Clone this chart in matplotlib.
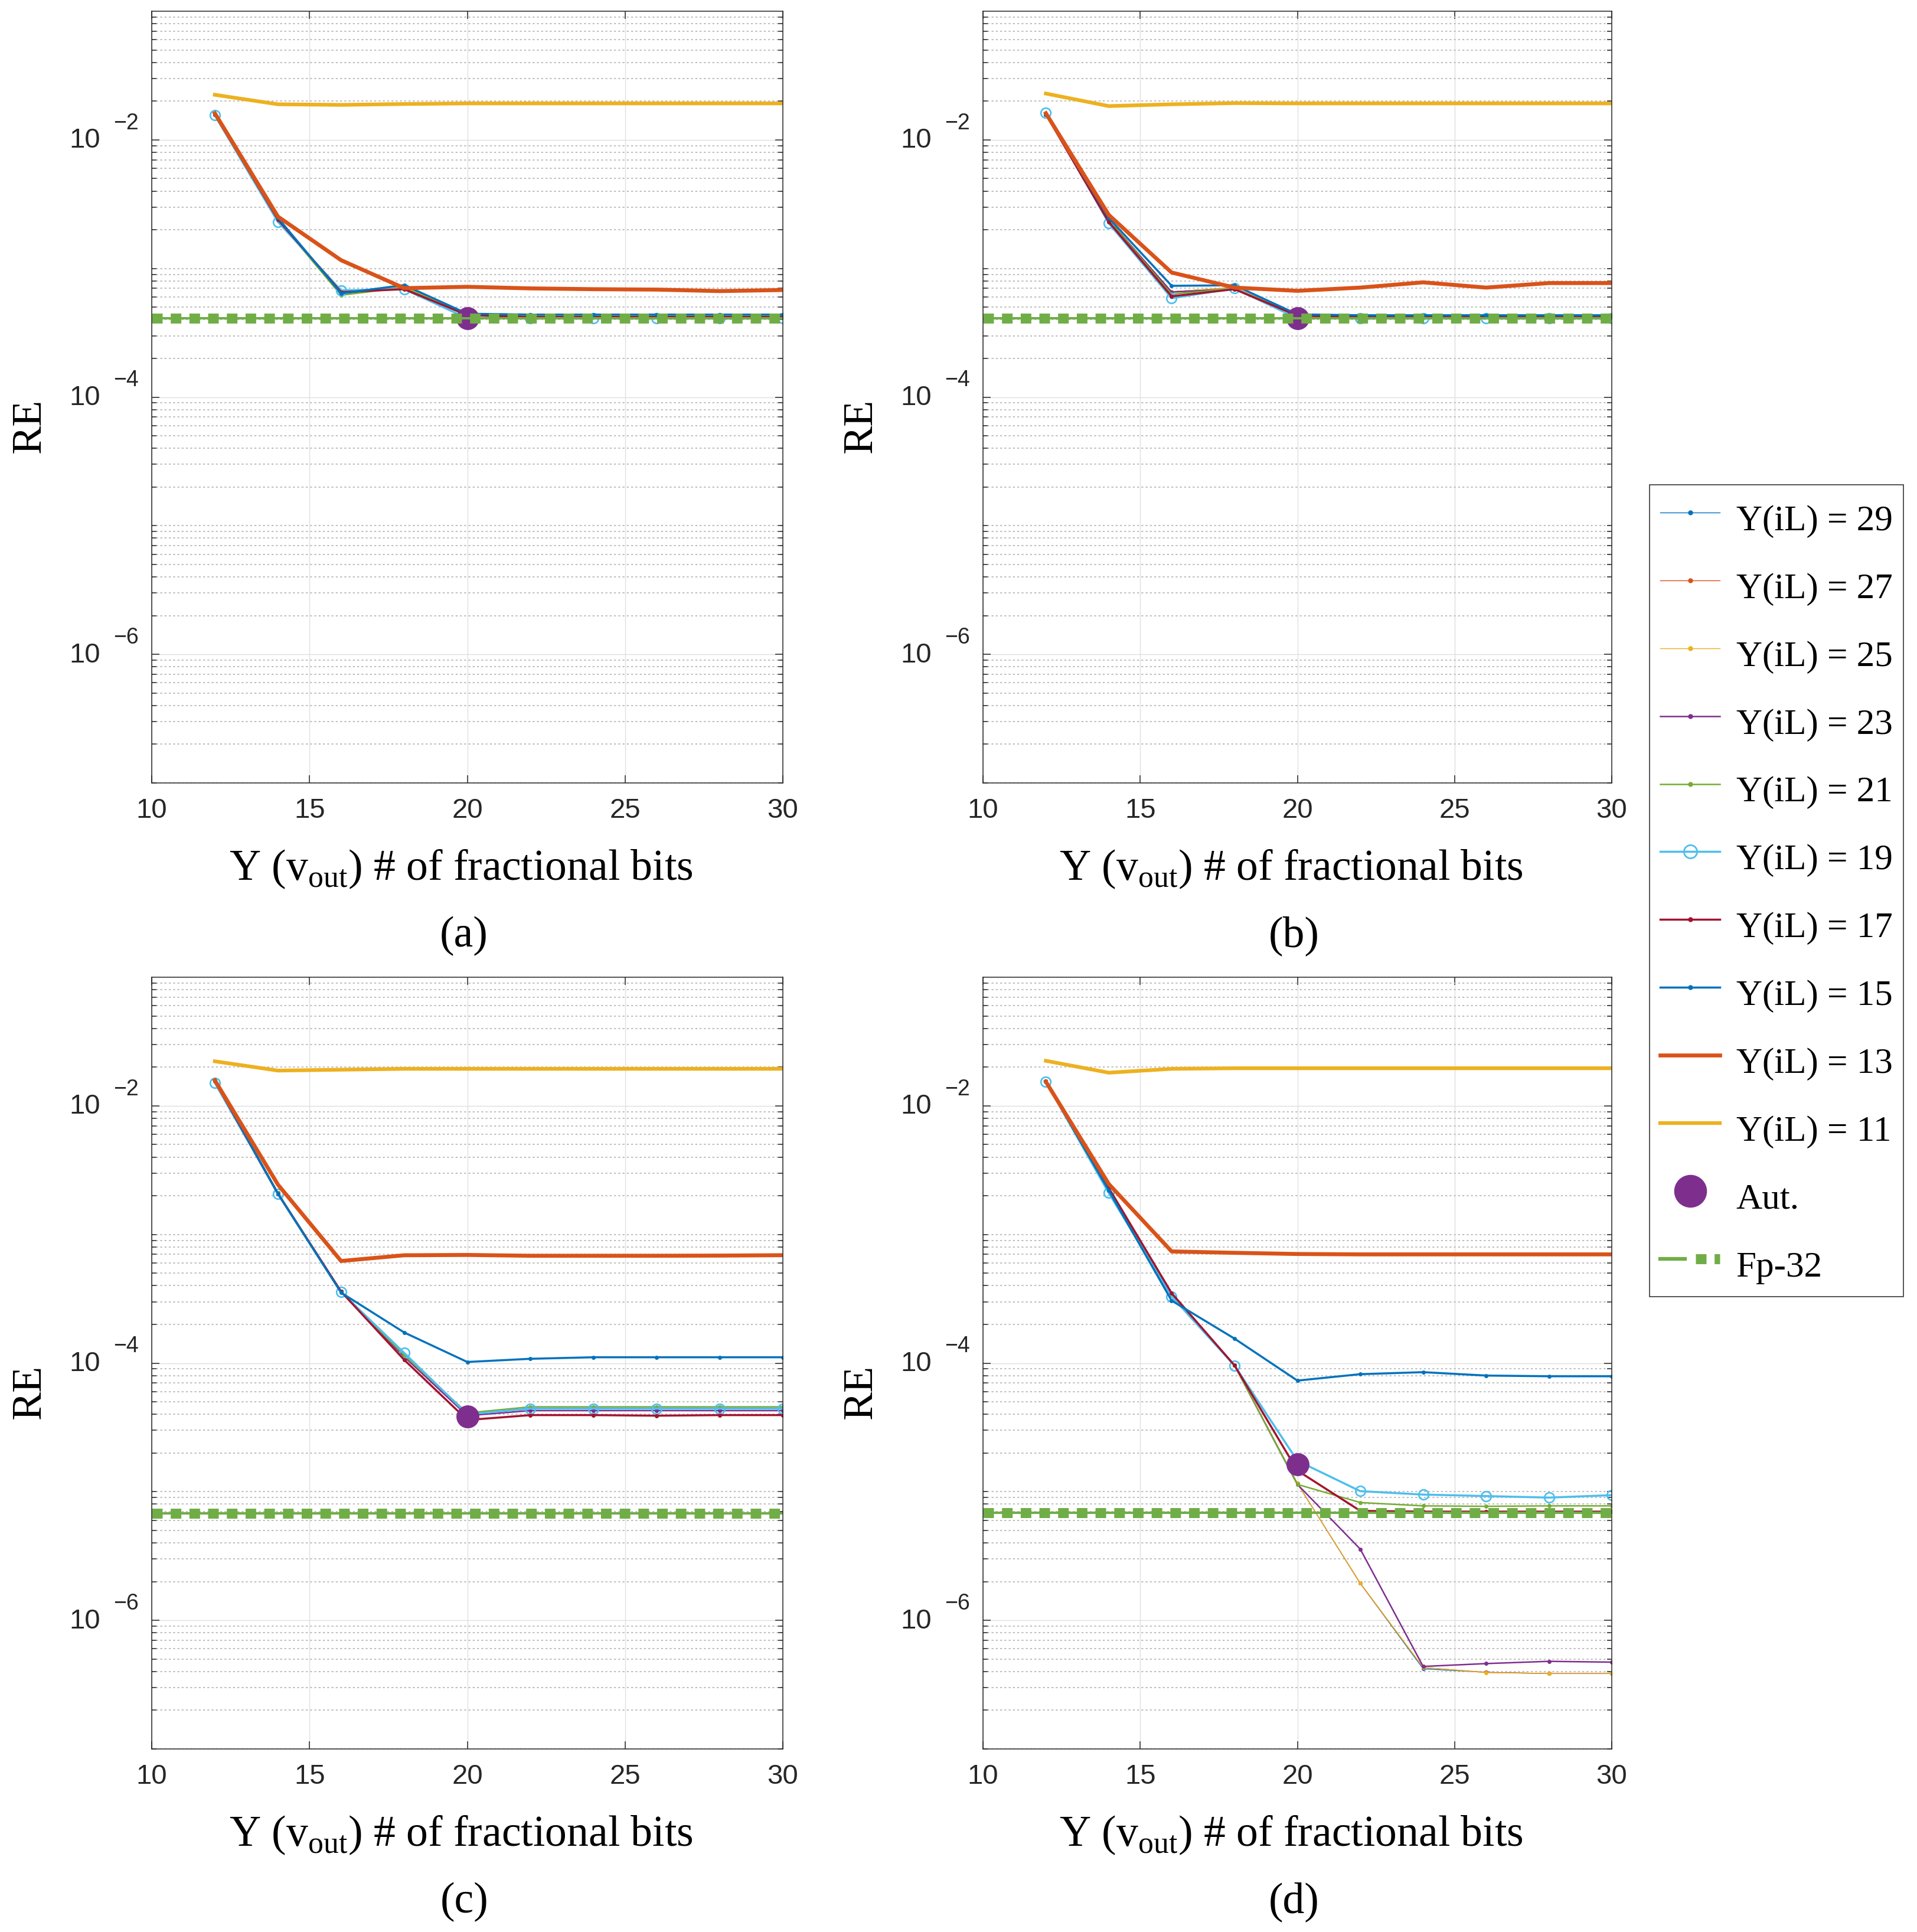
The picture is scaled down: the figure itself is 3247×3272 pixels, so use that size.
import matplotlib
matplotlib.use('Agg')
import matplotlib.pyplot as plt
import matplotlib.transforms as mtransforms
from matplotlib.lines import Line2D
from matplotlib.legend_handler import HandlerTuple

# data (RE vs. fractional bits of v_out)
x_bits = [12, 14, 16, 18, 20, 22, 24, 26, 28, 30]
il_bits = [29, 27, 25, 23, 21, 19, 17, 15, 13, 11]

re_a = {
    29: [0.0158, 2.42e-3, 6.5e-4, 7.2e-4, 4.4e-4, 4.3e-4, 4.3e-4, 4.3e-4, 4.3e-4, 4.3e-4],
    27: [0.0158, 2.42e-3, 6.5e-4, 7.2e-4, 4.4e-4, 4.3e-4, 4.3e-4, 4.3e-4, 4.3e-4, 4.3e-4],
    25: [0.0158, 2.42e-3, 6.5e-4, 7.2e-4, 4.4e-4, 4.3e-4, 4.3e-4, 4.3e-4, 4.3e-4, 4.3e-4],
    23: [0.0158, 2.40e-3, 6.4e-4, 7.0e-4, 4.3e-4, 4.2e-4, 4.2e-4, 4.2e-4, 4.2e-4, 4.2e-4],
    21: [0.0157, 2.38e-3, 6.2e-4, 7.1e-4, 4.3e-4, 4.2e-4, 4.2e-4, 4.2e-4, 4.2e-4, 4.2e-4],
    19: [0.0155, 2.30e-3, 6.76e-4, 6.9e-4, 4.1e-4, 4.08e-4, 4.08e-4, 4.08e-4, 4.08e-4, 4.08e-4],
    17: [0.0158, 2.40e-3, 6.55e-4, 6.9e-4, 4.35e-4, 4.2e-4, 4.2e-4, 4.2e-4, 4.2e-4, 4.2e-4],
    15: [0.0159, 2.47e-3, 6.4e-4, 7.43e-4, 4.45e-4, 4.38e-4, 4.38e-4, 4.38e-4, 4.38e-4, 4.38e-4],
    13: [0.0161, 2.53e-3, 1.16e-3, 7.03e-4, 7.2e-4, 7.0e-4, 6.9e-4, 6.85e-4, 6.67e-4, 6.8e-4],
    11: [0.0224, 0.0189, 0.0187, 0.0190, 0.0192, 0.0192, 0.0192, 0.0192, 0.0192, 0.0192],
}
re_b = {
    29: [0.0159, 2.40e-3, 6.6e-4, 7.1e-4, 4.35e-4, 4.3e-4, 4.3e-4, 4.3e-4, 4.3e-4, 4.3e-4],
    27: [0.0159, 2.40e-3, 6.6e-4, 7.1e-4, 4.35e-4, 4.3e-4, 4.3e-4, 4.3e-4, 4.3e-4, 4.3e-4],
    25: [0.0159, 2.40e-3, 6.6e-4, 7.1e-4, 4.35e-4, 4.3e-4, 4.3e-4, 4.3e-4, 4.3e-4, 4.3e-4],
    23: [0.0158, 2.35e-3, 6.55e-4, 6.9e-4, 4.3e-4, 4.2e-4, 4.2e-4, 4.2e-4, 4.2e-4, 4.2e-4],
    21: [0.0158, 2.35e-3, 6.3e-4, 7.0e-4, 4.3e-4, 4.2e-4, 4.2e-4, 4.2e-4, 4.2e-4, 4.2e-4],
    19: [0.0162, 2.25e-3, 5.87e-4, 7.0e-4, 4.1e-4, 4.08e-4, 4.08e-4, 4.08e-4, 4.08e-4, 4.08e-4],
    17: [0.0158, 2.30e-3, 6.07e-4, 6.9e-4, 4.3e-4, 4.2e-4, 4.2e-4, 4.2e-4, 4.2e-4, 4.2e-4],
    15: [0.0159, 2.47e-3, 7.33e-4, 7.4e-4, 4.4e-4, 4.33e-4, 4.33e-4, 4.33e-4, 4.33e-4, 4.33e-4],
    13: [0.0161, 2.61e-3, 9.3e-4, 7.1e-4, 6.7e-4, 7.1e-4, 7.8e-4, 7.1e-4, 7.7e-4, 7.7e-4],
    11: [0.0229, 0.0183, 0.0189, 0.0193, 0.0192, 0.0192, 0.0192, 0.0192, 0.0192, 0.0192],
}
re_c = {
    29: [0.0157, 2.10e-3, 3.6e-4, 1.12e-4, 4.0e-5, 4.4e-5, 4.4e-5, 4.4e-5, 4.4e-5, 4.4e-5],
    27: [0.0157, 2.10e-3, 3.6e-4, 1.12e-4, 4.0e-5, 4.4e-5, 4.4e-5, 4.4e-5, 4.4e-5, 4.4e-5],
    25: [0.0157, 2.10e-3, 3.6e-4, 1.12e-4, 4.0e-5, 4.4e-5, 4.4e-5, 4.4e-5, 4.4e-5, 4.4e-5],
    23: [0.0157, 2.10e-3, 3.6e-4, 1.12e-4, 3.9e-5, 4.27e-5, 4.27e-5, 4.27e-5, 4.27e-5, 4.27e-5],
    21: [0.0157, 2.10e-3, 3.6e-4, 1.15e-4, 4.1e-5, 4.57e-5, 4.57e-5, 4.57e-5, 4.57e-5, 4.57e-5],
    19: [0.0151, 2.07e-3, 3.57e-4, 1.2e-4, 4.0e-5, 4.43e-5, 4.43e-5, 4.43e-5, 4.43e-5, 4.43e-5],
    17: [0.0156, 2.07e-3, 3.6e-4, 1.06e-4, 3.61e-5, 3.94e-5, 3.94e-5, 3.9e-5, 3.94e-5, 3.94e-5],
    15: [0.0158, 2.07e-3, 3.53e-4, 1.73e-4, 1.02e-4, 1.08e-4, 1.11e-4, 1.11e-4, 1.11e-4, 1.11e-4],
    13: [0.0158, 2.44e-3, 6.22e-4, 6.89e-4, 6.93e-4, 6.83e-4, 6.83e-4, 6.83e-4, 6.85e-4, 6.9e-4],
    11: [0.0222, 0.0188, 0.0191, 0.0194, 0.0194, 0.0194, 0.0194, 0.0194, 0.0194, 0.0194],
}
re_d = {
    29: [0.0156, 2.2e-3, 3.4e-4, 9.6e-5, 1.16e-5, 1.94e-6, 4.2e-7, 3.94e-7, 3.86e-7, 3.86e-7],
    27: [0.0156, 2.2e-3, 3.4e-4, 9.6e-5, 1.16e-5, 1.94e-6, 4.3e-7, 3.94e-7, 3.86e-7, 3.86e-7],
    25: [0.0156, 2.2e-3, 3.4e-4, 9.6e-5, 1.16e-5, 1.95e-6, 4.3e-7, 3.92e-7, 3.85e-7, 3.85e-7],
    23: [0.0156, 2.2e-3, 3.4e-4, 9.6e-5, 1.14e-5, 3.58e-6, 4.38e-7, 4.61e-7, 4.8e-7, 4.73e-7],
    21: [0.0156, 2.2e-3, 3.4e-4, 9.6e-5, 1.14e-5, 8.24e-6, 7.76e-6, 7.7e-6, 7.76e-6, 7.76e-6],
    19: [0.0154, 2.1e-3, 3.3e-4, 9.57e-5, 1.74e-5, 1.01e-5, 9.5e-6, 9.25e-6, 9.0e-6, 9.4e-6],
    17: [0.0156, 2.3e-3, 3.5e-4, 9.6e-5, 1.46e-5, 7.1e-6, 7.0e-6, 7.0e-6, 7.0e-6, 7.0e-6],
    15: [0.0154, 2.2e-3, 3.06e-4, 1.55e-4, 7.31e-5, 8.2e-5, 8.5e-5, 8.0e-5, 7.9e-5, 7.9e-5],
    13: [0.0154, 2.47e-3, 7.38e-4, 7.2e-4, 7.05e-4, 7.0e-4, 7.0e-4, 7.0e-4, 7.0e-4, 7.0e-4],
    11: [0.0224, 0.0181, 0.0194, 0.0196, 0.0196, 0.0196, 0.0196, 0.0196, 0.0196, 0.0196],
}

aut_x = 20
aut_re = [4.1e-4, 4.1e-4, 3.86e-5, 1.64e-5]
fp32_re = [4.08e-4, 4.1e-4, 6.79e-6, 6.85e-6]
panel_tags = ['(a)', '(b)', '(c)', '(d)']

# MATLAB default palette
colors = {29: '#0072BD', 27: '#D95319', 25: '#EDB120', 23: '#7E2F8E', 21: '#77AC30',
          19: '#4DBEEE', 17: '#A2142F', 15: '#0072BD', 13: '#D95319', 11: '#EDB120'}
widths = {29: 1.0, 27: 1.0, 25: 1.0, 23: 1.8, 21: 1.8, 19: 2.5, 17: 2.5, 15: 2.5, 13: 4.8, 11: 4.5}
aut_color = '#7E2F8E'
fp_color = '#70AD47'
ink = '#262626'
serif = 'Liberation Serif'
sans = 'Liberation Sans'

plt.rcParams['font.family'] = sans
plt.rcParams['mathtext.fontset'] = 'custom'
plt.rcParams['mathtext.rm'] = serif

W, H = 3247, 3273
fig = plt.figure(figsize=(W / 100, H / 100), dpi=100)

# axes boxes in pixels: (left, width) per column, bottom per row
col_box = [(257, 1069), (1665, 1065)]
row_bottom = [1327, 2963]
ax_h = 1307

minor_y = [k * 10.0 ** e for e in range(-7, -1) for k in range(1, 10)
           if not (k == 1 and e in (-6, -4, -2))]


def fp_style(lw_thin, lw_sq):
    return [dict(color=fp_color, lw=lw_thin),
            dict(color=fp_color, lw=lw_sq, dashes=(1.06, 0.81), dash_capstyle='butt')]


def draw_panel(ax, series, aut_y, fp_y, tag):
    for il in il_bits:
        kw = dict(color=colors[il], lw=widths[il])
        if il == 19:
            kw.update(marker='o', ms=12, mfc='none', mew=1.9)
        elif il > 13:
            kw.update(marker='.', ms=8)
        ax.plot(x_bits, series[il], **kw)
    ax.plot([aut_x], [aut_y], 'o', ms=27, color=aut_color)
    for kw in fp_style(2.9, 12.2):
        ax.axhline(fp_y, **kw)

    ax.set_yscale('log')
    ax.set_xlim(10, 30)
    ax.set_ylim(1e-7, 1e-1)
    ax.set_xticks([10, 15, 20, 25, 30])
    ax.set_yticks([1e-6, 1e-4, 1e-2])
    ax.set_yticks(minor_y, minor=True)
    ax.tick_params(which='both', direction='in', top=True, right=True, color=ink, width=1.1,
                   labelleft=False, labelsize=34, labelcolor=ink)
    ax.tick_params(which='major', length=9.4, pad=17)
    ax.tick_params(which='minor', length=5.8)
    ax.grid(True, which='major', color='#e0e0e0', lw=1.0, ls='-')
    ax.grid(True, which='minor', axis='y', color='#bfbfbf', lw=1.45, ls=(0, (1.6, 2.0)))
    ax.set_axisbelow(True)
    for sp in ax.spines.values():
        sp.set_color(ink)
        sp.set_linewidth(1.1)

    # MATLAB-like "10 ^-n" tick labels
    base = ax.get_yaxis_transform()
    tr_ten = mtransforms.offset_copy(base, fig=fig, y=-9.0, units='points')
    tr_exp = mtransforms.offset_copy(base, fig=fig, y=13.8, units='points')
    w_px = ax.get_position().width * W
    for e in (-6, -4, -2):
        ax.text(-87 / w_px, 10.0 ** e, '10', transform=tr_ten, ha='right', va='baseline',
                fontsize=34, color=ink, family=sans)
        ax.text(-64.5 / w_px, 10.0 ** e, '\u2212%d' % (-e), transform=tr_exp, ha='left',
                va='baseline', fontsize=27, color=ink, family=sans)

    ax.text(-206.5 / w_px, 0.464, 'RE', transform=ax.transAxes, rotation=90, ha='center',
            va='center', fontsize=52, family=serif)
    ax.text(0.49, -0.1247, r'Y (v$_{\mathrm{out}}$) # of fractional bits',
            transform=ax.transAxes, ha='center', va='baseline', fontsize=53, family=serif)
    ax.text(0.495, -0.211, tag, transform=ax.transAxes, ha='center', va='baseline',
            fontsize=53, family=serif)


panels = [re_a, re_b, re_c, re_d]
for i, series in enumerate(panels):
    left, width = col_box[i % 2]
    bottom = row_bottom[i // 2]
    ax = fig.add_axes([left / W, 1 - bottom / H, width / W, ax_h / H])
    draw_panel(ax, series, aut_re[i], fp32_re[i], panel_tags[i])

# legend
handles, labels = [], []
for il in il_bits:
    kw = dict(color=colors[il], lw=widths[il])
    if il == 19:
        kw.update(marker='o', ms=16, mfc='none', mew=2)
    elif il > 13:
        kw.update(marker='.', ms=10)
    handles.append(Line2D([], [], **kw))
    labels.append('Y(iL) = %d' % il)
handles.append(Line2D([], [], ls='none', marker='o', ms=39, color=aut_color))
labels.append('Aut.')
handles.append(tuple(Line2D([], [], **kw) for kw in fp_style(4.5, 12.2)))
labels.append('Fp-32')

leg = fig.legend(handles, labels, loc='upper left', bbox_to_anchor=(2794 / W, 1 - 822 / H),
                 prop={'family': serif, 'size': 44}, frameon=True, fancybox=False,
                 edgecolor=ink, framealpha=1, borderpad=0.3, labelspacing=0.66,
                 handlelength=1.65, handleheight=1.5, handletextpad=0.45, borderaxespad=0,
                 handler_map={tuple: HandlerTuple(ndivide=None)})
leg.get_frame().set_linewidth(1.1)

fig.savefig('out.png', dpi=100)
